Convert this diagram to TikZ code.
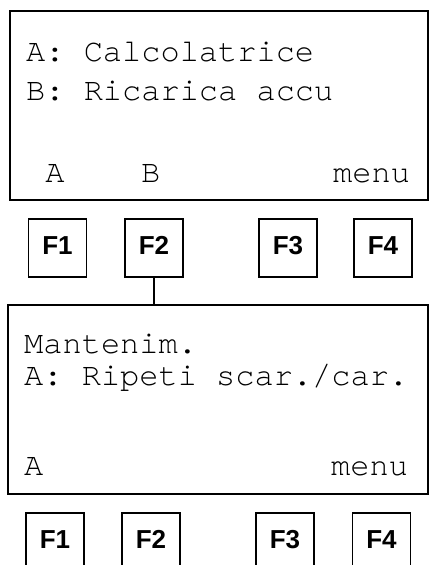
\documentclass[tikz,border=0pt]{standalone}
\usepackage{fontspec}
\setmainfont{Liberation Sans}
\setmonofont{TeX Gyre Cursor}
\begin{document}
\begin{tikzpicture}[x=1pt,y=-1pt,
  screen/.style={draw,line width=1.6pt},
  fkey/.style={draw,line width=1.3pt,minimum width=58pt,minimum height=58pt,inner sep=0pt,
    font=\fontsize{26}{30}\selectfont\bfseries,text height=19pt,text depth=7pt},
  lcd/.style={anchor=base west,inner sep=0pt,font=\fontsize{32}{38}\selectfont\ttfamily},
  wire/.style={line width=1.3pt}]
\useasboundingbox (0,0) rectangle (430,565);
\begin{scope}
\clip (0,0) rectangle (430,565);
% top screen
\node[screen,inner sep=0pt,minimum width=418pt,minimum height=189pt] (top) at (219,105.5) {};
\node[lcd] (t1) at (26,61) {A: Calcolatrice};
\node[lcd] (t2) at (26,100) {B: Ricarica accu};
\node[lcd] (ta) at (45.2,182) {A};
\node[lcd] (tb) at (141,182) {B};
\node[lcd] (tm) at (333,182) {menu};
% first key row
\node[fkey] (a1) at (57.5,248) {F1};
\node[fkey] (a2) at (154,248) {F2};
\node[fkey] (a3) at (288,248) {F3};
\node[fkey] (a4) at (383,248) {F4};
% second screen
\node[screen,inner sep=0pt,minimum width=420pt,minimum height=189pt] (bot) at (218,399.5) {};
\node[lcd] (b1) at (24,353) {Mantenim.};
\node[lcd] (b2) at (24,385) {A: Ripeti scar./car.};
\node[lcd] (ba) at (24,475) {A};
\node[lcd] (bm) at (331,475) {menu};
\draw[wire] (a2.south) -- (a2.south |- bot.north);
% second key row
\node[fkey] (c1) at (55,542) {F1};
\node[fkey] (c2) at (151,542) {F2};
\node[fkey] (c3) at (285,542) {F3};
\node[fkey] (c4) at (381.5,542) {F4};
\end{scope}
\end{tikzpicture}
\end{document}
